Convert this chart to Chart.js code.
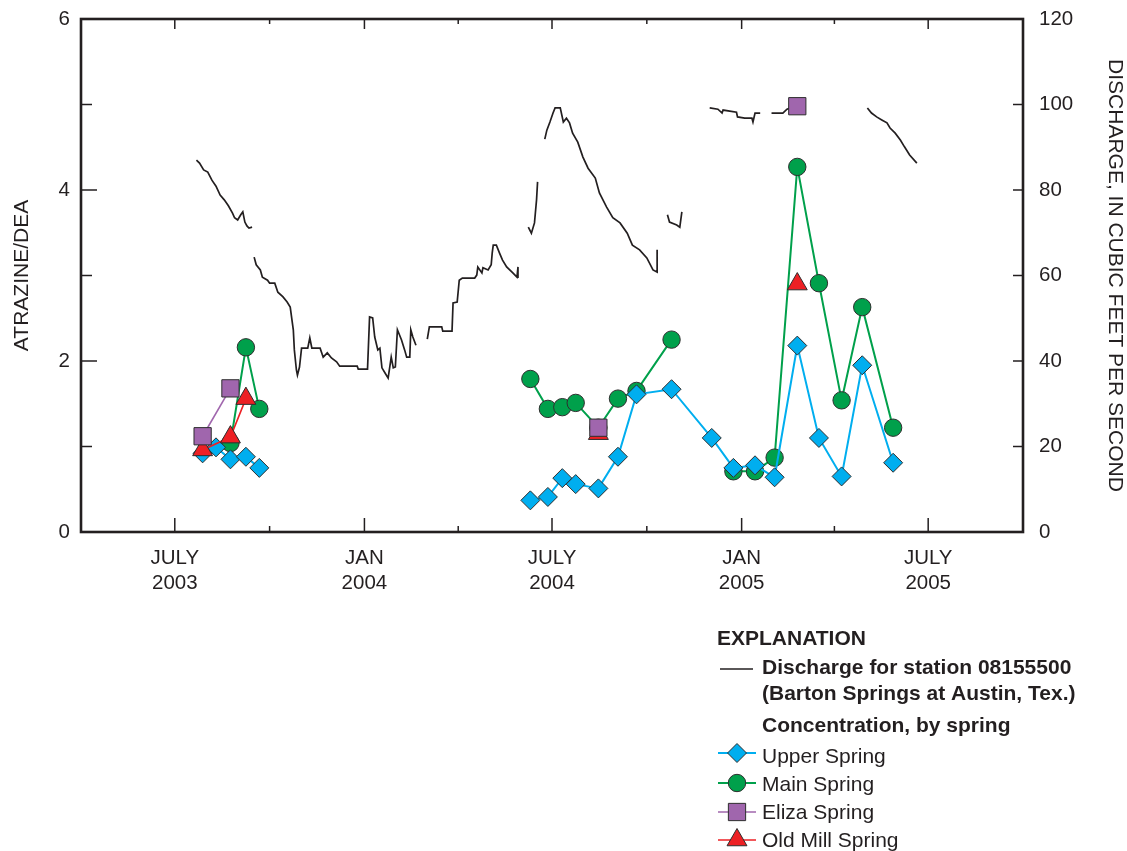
<!DOCTYPE html>
<html>
<head>
<meta charset="utf-8">
<title>Atrazine/DEA and discharge, Barton Springs</title>
<script src="https://cdn.jsdelivr.net/npm/chart.js@4.4.1/dist/chart.umd.min.js"></script>
<style>
  html, body { margin: 0; padding: 0; background: #ffffff; }
  canvas { display: block; }
</style>
</head>
<body>
<canvas id="chart" width="1127" height="851"></canvas>
<script>
// ---- Axis definitions -------------------------------------------------
const axisStart = '2003-04-01';
const axisEnd = '2005-10-01';
const quarterTicks = ['2003-04-01', '2003-07-01', '2003-10-01', '2004-01-01', '2004-04-01',
  '2004-07-01', '2004-10-01', '2005-01-01', '2005-04-01', '2005-07-01', '2005-10-01'];
const quarterLabels = ['', ['JULY', '2003'], '', ['JAN', '2004'], '', ['JULY', '2004'], '',
  ['JAN', '2005'], '', ['JULY', '2005'], ''];
const ratioTicks = [0, 1, 2, 3, 4, 5, 6];
const ratioMajorTicks = [0, 2, 4, 6];
const dischargeTicks = [0, 20, 40, 60, 80, 100, 120];

// ---- Daily discharge, station 08155500 (days after 2003-07-01, ft3/s) ----
// null entries are periods without record.
const dischargeDay = [
  21, 24, 28, 32, 36, 40, 44, 48, 52, 56, 58, 61, 64, 66, 68, 70, 72, 75,
  76,
  77, 79, 83, 85, 90, 92, 97, 100, 105, 109, 112, 115, 116, 118, 119, 121, 123, 129, 131, 133,
  141, 144, 148, 152, 157, 160, 177, 178, 187, 189, 192, 194, 197, 199, 201, 204, 207, 210,
  212, 214, 216, 220, 223, 225, 228, 229, 231, 234,
  239,
  245, 247, 259, 260, 269, 270, 274, 276, 279, 291, 293, 294, 298, 299, 304, 307, 308, 309,
  312, 315, 318, 322, 328, 332, 333, 333,
  338,
  343, 346, 349, 351, 352,
  355,
  359, 361, 364, 367, 369, 374, 377, 380, 383, 386, 391, 396, 401, 408, 412, 419, 425, 432,
  439, 444, 451, 458, 464, 468, 468,
  473,
  478, 480, 487, 490, 492,
  505,
  519, 527, 531, 532, 545, 546, 553, 560, 561, 563, 568,
  573,
  579, 590, 594, 597,
  630,
  672, 676, 681, 686, 691, 694, 699, 704, 708, 713, 720
];
const dischargeCfs = [
  87.0, 86.3, 84.7, 84.2, 82.3, 80.9, 78.8, 77.7, 76.3, 74.6, 73.5, 73.0, 74.2, 74.9, 72.5, 71.6, 71.1, 71.3,
  null,
  64.3, 62.5, 61.3, 59.6, 58.9, 58.2, 58.2, 56.1, 55.0, 53.8, 52.6, 47.3, 42.6, 37.9, 36.7, 38.6, 43.0, 43.0, 45.4, 43.0,
  43.0, 40.9, 41.9, 40.7, 39.8, 38.8, 38.8, 38.1, 38.1, 50.3, 50.1, 45.6, 42.6, 43.0, 38.4, 37.2, 36.0, 40.9,
  38.4, 38.6, 47.3, 44.9, 42.6, 40.9, 40.9, 47.3, 45.6, 43.7,
  null,
  45.1, 48.0, 48.0, 47.0, 47.0, 53.6, 53.8, 58.9, 59.4, 59.4, 60.1, 62.0, 60.6, 61.8, 61.3, 62.5, 65.3, 67.1,
  67.1, 65.3, 63.6, 62.0, 60.6, 59.6, 62.0, 59.4,
  null,
  71.3, 69.9, 72.3, 77.7, 81.9,
  null,
  91.9, 94.0, 95.9, 98.0, 99.2, 99.2, 95.9, 96.8, 95.7, 93.3, 91.2, 87.7, 85.1, 82.8, 79.3, 76.0, 73.5, 72.3,
  69.9, 67.1, 66.0, 64.1, 61.3, 60.8, 66.0,
  null,
  74.2, 72.5, 71.8, 71.3, 74.9,
  null,
  99.2, 98.9, 98.0, 98.7, 98.2, 97.1, 96.8, 96.8, 95.9, 98.0, 98.0,
  null,
  98.0, 98.0, 98.9, 99.2,
  null,
  99.2, 98.0, 97.1, 96.4, 95.7, 94.5, 93.3, 91.7, 90.1, 88.2, 86.3
];

// ---- Atrazine/DEA ratio by spring, per sampling date ----
const sampleDates = [
  '2003-07-28', '2003-08-10', '2003-08-24', '2003-09-08', '2003-09-21',
  '2004-06-10', '2004-06-27', '2004-07-11', '2004-07-24', '2004-08-15', '2004-09-03',
  '2004-09-21', '2004-10-25', '2004-12-03', '2004-12-24', '2005-01-14', '2005-02-02',
  '2005-02-24', '2005-03-17', '2005-04-08', '2005-04-28', '2005-05-28'
];
const upperSpring = [0.92, 0.99, 0.85, 0.88, 0.75,
  0.37, 0.41, 0.63, 0.56, 0.51, 0.88, 1.61, 1.67, 1.10, 0.75, 0.78, 0.64, 2.18, 1.10, 0.65, 1.95, 0.81];
const mainSpring = [null, null, 1.04, 2.16, 1.44,
  1.79, 1.44, 1.46, 1.51, 1.22, 1.56, 1.65, 2.25, null, 0.71, 0.71, 0.87, 4.27, 2.91, 1.54, 2.63, 1.22];
const elizaSpring = [1.12, null, 1.68, null, null,
  null, null, null, null, 1.22, null, null, null, null, null, null, null, 4.98, null, null, null, null];
const oldMillSpring = [0.96, null, 1.11, 1.56, null,
  null, null, null, null, 1.15, null, null, null, null, null, null, null, 2.90, null, null, null, null];

// ---- Helpers ----------------------------------------------------------
const FONT = "'Liberation Sans', Arial, Helvetica, sans-serif";
const INK = '#231f20';
const EDGE = '#2e2e2e';
const COLORS = { upper: '#00aeef', main: '#00a04b', eliza: '#a066ad', oldMill: '#ed2024' };

const REF = Date.UTC(2003, 6, 1);
function dayOf(iso) {
  const [y, m, d] = iso.split('-').map(Number);
  return (Date.UTC(y, m - 1, d) - REF) / 864e5;
}
// keepGaps: an unsampled date breaks the line; otherwise only sampled dates are joined
function toPoints(vals, keepGaps) {
  const pts = sampleDates.map((d, i) => ({ x: dayOf(d), y: vals[i] }));
  return keepGaps ? pts : pts.filter(p => p.y !== null);
}
// sampling seasons are not joined to one another
const seasonBreak = ctx => {
  const a = ctx.p0.parsed, b = ctx.p1.parsed;
  return (a && b && b.x - a.x > 100) ? 'rgba(0,0,0,0)' : undefined;
};

const markers = {
  upper: { pointStyle: 'rectRot', radius: 9.5 },
  main: { pointStyle: 'circle', radius: 8.7 },
  eliza: { pointStyle: 'rect', radius: 12.2 },
  oldMill: { pointStyle: 'triangle', radius: 11.5 }
};

function springDataset(label, key, vals, lineWidth, order, keepGaps) {
  return {
    label,
    data: toPoints(vals, keepGaps),
    yAxisID: 'y',
    borderColor: COLORS[key],
    borderWidth: lineWidth,
    backgroundColor: COLORS[key],
    pointStyle: markers[key].pointStyle,
    pointRadius: markers[key].radius,
    pointHoverRadius: markers[key].radius,
    pointBackgroundColor: COLORS[key],
    pointBorderColor: EDGE,
    pointBorderWidth: 1,
    spanGaps: false,
    order,
    tension: 0,
    segment: { borderColor: seasonBreak }
  };
}

const datasets = [
  {
    label: 'Discharge',
    data: dischargeDay.map((d, i) => ({ x: d, y: dischargeCfs[i] })),
    yAxisID: 'y1',
    borderColor: INK,
    borderWidth: 1.7,
    pointRadius: 0,
    spanGaps: false,
    order: 5,
    tension: 0
  },
  springDataset('Upper Spring', 'upper', upperSpring, 2, 3, false),
  springDataset('Main Spring', 'main', mainSpring, 2, 4, true),
  springDataset('Eliza Spring', 'eliza', elizaSpring, 1.6, 1, false),
  springDataset('Old Mill Spring', 'oldMill', oldMillSpring, 1.6, 2, false)
];

// ---- Frame with inward tick marks --------------------------------------
const frameAndTicks = {
  id: 'frameAndTicks',
  afterDatasetsDraw(chart) {
    const { ctx, chartArea: a, scales } = chart;
    const seg = (x1, y1, x2, y2) => { ctx.beginPath(); ctx.moveTo(x1, y1); ctx.lineTo(x2, y2); ctx.stroke(); };
    ctx.save();
    ctx.strokeStyle = INK;
    ctx.lineWidth = 1.5;
    quarterTicks.forEach((d, i) => {
      const px = scales.x.getPixelForValue(dayOf(d));
      const major = quarterLabels[i] !== '';
      seg(px, a.bottom, px, a.bottom - (major ? 14 : 6));
      seg(px, a.top, px, a.top + (major ? 10 : 5));
    });
    ratioTicks.forEach(v => {
      const py = scales.y.getPixelForValue(v);
      seg(a.left, py, a.left + (ratioMajorTicks.includes(v) ? 16 : 11), py);
    });
    dischargeTicks.forEach(v => {
      const py = scales.y1.getPixelForValue(v);
      seg(a.right, py, a.right - 10, py);
    });
    ctx.lineWidth = 2.6;
    ctx.strokeRect(a.left, a.top, a.right - a.left, a.bottom - a.top);
    ctx.restore();
  }
};

// ---- Explanation block -------------------------------------------------
function marker(ctx, style, radius, x, y) {
  if (Chart.helpers && Chart.helpers.drawPoint) {
    Chart.helpers.drawPoint(ctx, { pointStyle: style, radius, rotation: 0, borderWidth: 1 }, x, y);
    return;
  }
  ctx.beginPath();
  if (style === 'circle') ctx.arc(x, y, radius, 0, Math.PI * 2);
  else if (style === 'rect') { const s = radius * Math.SQRT1_2; ctx.rect(x - s, y - s, 2 * s, 2 * s); }
  else if (style === 'rectRot') { ctx.moveTo(x, y - radius); ctx.lineTo(x + radius, y); ctx.lineTo(x, y + radius); ctx.lineTo(x - radius, y); ctx.closePath(); }
  else { ctx.moveTo(x, y - radius); ctx.lineTo(x + radius * 0.866, y + radius / 2); ctx.lineTo(x - radius * 0.866, y + radius / 2); ctx.closePath(); }
  ctx.fill(); ctx.stroke();
}

const explanation = {
  id: 'explanation',
  afterDraw(chart) {
    const ctx = chart.ctx;
    ctx.save();
    ctx.fillStyle = INK;
    ctx.textAlign = 'left';
    ctx.textBaseline = 'alphabetic';
    ctx.font = 'bold 21px ' + FONT;
    ctx.fillText('EXPLANATION', 717, 645);
    ctx.fillText('Discharge for station 08155500', 762, 674);
    ctx.fillText('(Barton Springs at Austin, Tex.)', 762, 700);
    ctx.fillText('Concentration, by spring', 762, 732);

    ctx.strokeStyle = INK;
    ctx.lineWidth = 1.6;
    ctx.beginPath(); ctx.moveTo(720, 669); ctx.lineTo(753, 669); ctx.stroke();

    const rows = [
      { key: 'upper', text: 'Upper Spring', y: 753, base: 763, w: 2 },
      { key: 'main', text: 'Main Spring', y: 783, base: 791, w: 2 },
      { key: 'eliza', text: 'Eliza Spring', y: 812, base: 819, w: 1.6 },
      { key: 'oldMill', text: 'Old Mill Spring', y: 840, base: 847, w: 1.6 }
    ];
    rows.forEach(r => {
      ctx.strokeStyle = COLORS[r.key];
      ctx.lineWidth = r.w;
      ctx.beginPath(); ctx.moveTo(718, r.y); ctx.lineTo(756, r.y); ctx.stroke();
      ctx.fillStyle = COLORS[r.key];
      ctx.strokeStyle = EDGE;
      ctx.lineWidth = 1;
      marker(ctx, markers[r.key].pointStyle, markers[r.key].radius, 737, r.y);
      ctx.fillStyle = INK;
      ctx.font = '21px ' + FONT;
      ctx.fillText(r.text, 762, r.base);
    });
    ctx.restore();
  }
};

// ---- Chart -------------------------------------------------------------
const tickFont = { family: FONT, size: 20.5, lineHeight: 1.2 };
const titleFont = { family: FONT, size: 21, lineHeight: 1.2 };
const fitVertical = width => s => { s.width = width; s.paddingTop = 0; s.paddingBottom = 0; };

new Chart(document.getElementById('chart'), {
  type: 'line',
  data: { datasets },
  options: {
    responsive: false,
    animation: false,
    devicePixelRatio: 1,
    events: [],
    layout: { padding: { top: 19, left: 0, right: 0, bottom: 0 } },
    plugins: { legend: { display: false }, tooltip: { enabled: false } },
    scales: {
      x: {
        type: 'linear',
        position: 'bottom',
        min: dayOf(axisStart),
        max: dayOf(axisEnd),
        afterBuildTicks: s => { s.ticks = quarterTicks.map(d => ({ value: dayOf(d) })); },
        afterFit: s => { s.height = 319; s.paddingLeft = 0; s.paddingRight = 0; },
        grid: { display: false, drawTicks: false },
        border: { display: false },
        ticks: {
          autoSkip: false, maxRotation: 0, minRotation: 0, padding: 14,
          color: INK, font: tickFont,
          callback: (v, i) => quarterLabels[i]
        }
      },
      y: {
        position: 'left',
        min: 0, max: 6,
        afterBuildTicks: s => { s.ticks = ratioMajorTicks.map(v => ({ value: v })); },
        afterFit: fitVertical(81),
        grid: { display: false, drawTicks: false },
        border: { display: false },
        ticks: { padding: 11, color: INK, font: tickFont },
        title: { display: true, text: 'ATRAZINE/DEA', color: INK, font: titleFont, padding: { top: 10, bottom: 0 } }
      },
      y1: {
        position: 'right',
        min: 0, max: 120,
        afterBuildTicks: s => { s.ticks = dischargeTicks.map(v => ({ value: v })); },
        afterFit: fitVertical(104),
        grid: { display: false, drawTicks: false },
        border: { display: false },
        ticks: { padding: 16, color: INK, font: tickFont },
        title: { display: true, text: 'DISCHARGE, IN CUBIC FEET PER SECOND', color: INK, font: titleFont, padding: { top: 0, bottom: 0 } }
      }
    }
  },
  plugins: [frameAndTicks, explanation]
});
</script>
</body>
</html>
